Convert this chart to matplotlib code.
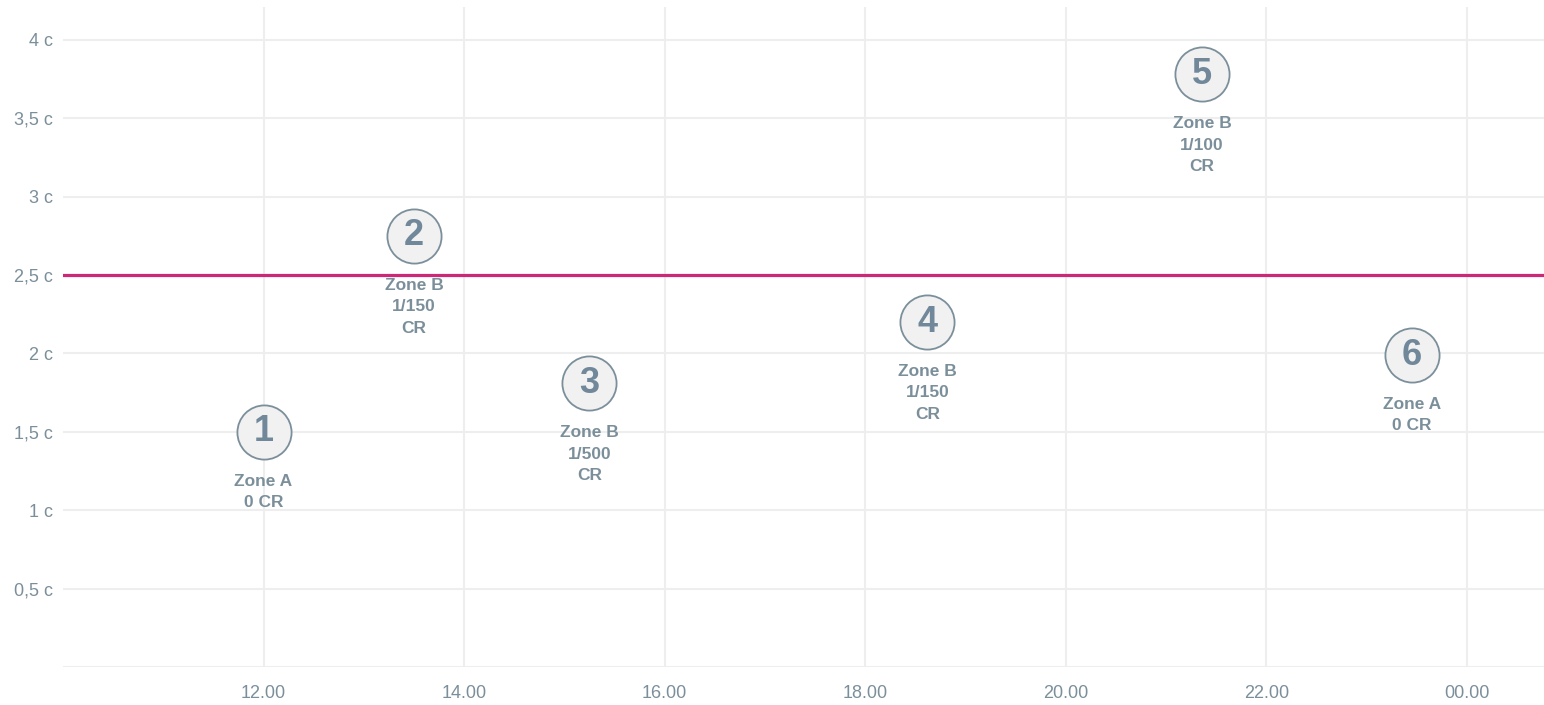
import matplotlib.pyplot as plt

# hours of the day (24 = midnight) and measured values
times = [12.0, 13.5, 15.25, 18.62, 21.36, 23.45]
values = [1.5, 2.75, 1.81, 2.2, 3.78, 1.99]
numbers = ["1", "2", "3", "4", "5", "6"]
zones = ["Zone A", "Zone B", "Zone B", "Zone B", "Zone B", "Zone A"]
rates = ["0 CR", "1/150\nCR", "1/500\nCR", "1/150\nCR", "1/100\nCR", "0 CR"]
limit = 2.5

x_ticks = [12, 14, 16, 18, 20, 22, 24]
x_labels = ["12.00", "14.00", "16.00", "18.00", "20.00", "22.00", "00.00"]
y_ticks = [0, 0.5, 1, 1.5, 2, 2.5, 3, 3.5, 4]
y_labels = ["", "0,5 c", "1 c", "1,5 c", "2 c", "2,5 c", "3 c", "3,5 c", "4 c"]

TEXT = "#7b8f9b"
GRID = "#eeeeee"

plt.rcParams["font.family"] = ["Liberation Sans", "DejaVu Sans"]

fig = plt.figure(figsize=(15.44, 7.05), dpi=100)
ax = fig.add_axes([63 / 1544, 38 / 705, 1 - 63 / 1544, 660 / 705])

ax.set_xlim(10.0, 24.77)
ax.set_ylim(0, 4.21)

ax.set_xticks(x_ticks)
ax.set_xticklabels(x_labels)
ax.set_yticks(y_ticks)
ax.set_yticklabels(y_labels)
ax.tick_params(axis="both", length=0, labelsize=13, labelcolor=TEXT)
ax.tick_params(axis="x", pad=13)
ax.tick_params(axis="y", pad=7)
ax.grid(True, color=GRID, linewidth=1.5)
ax.set_axisbelow(True)
for side in ["top", "right", "left", "bottom"]:
    ax.spines[side].set_visible(False)

ax.axhline(limit, color="#cc2877", linewidth=2.3, zorder=2)

ax.scatter(times, values, s=39 ** 2, facecolor="#f1f1f1", edgecolor=TEXT,
           linewidth=1.3, zorder=3, clip_on=False)

for t, v, n, z, r in zip(times, values, numbers, zones, rates):
    ax.text(t, v, n, ha="center", va="center", fontsize=26, fontweight="bold",
            color="#71879a", zorder=4)
    ax.annotate(z + "\n" + r, (t, v), xytext=(0, -30), textcoords="offset points",
                ha="center", va="top", fontsize=12.5, fontweight="bold",
                color=TEXT, linespacing=1.55, zorder=4)

fig.savefig("out.png", dpi=100)
